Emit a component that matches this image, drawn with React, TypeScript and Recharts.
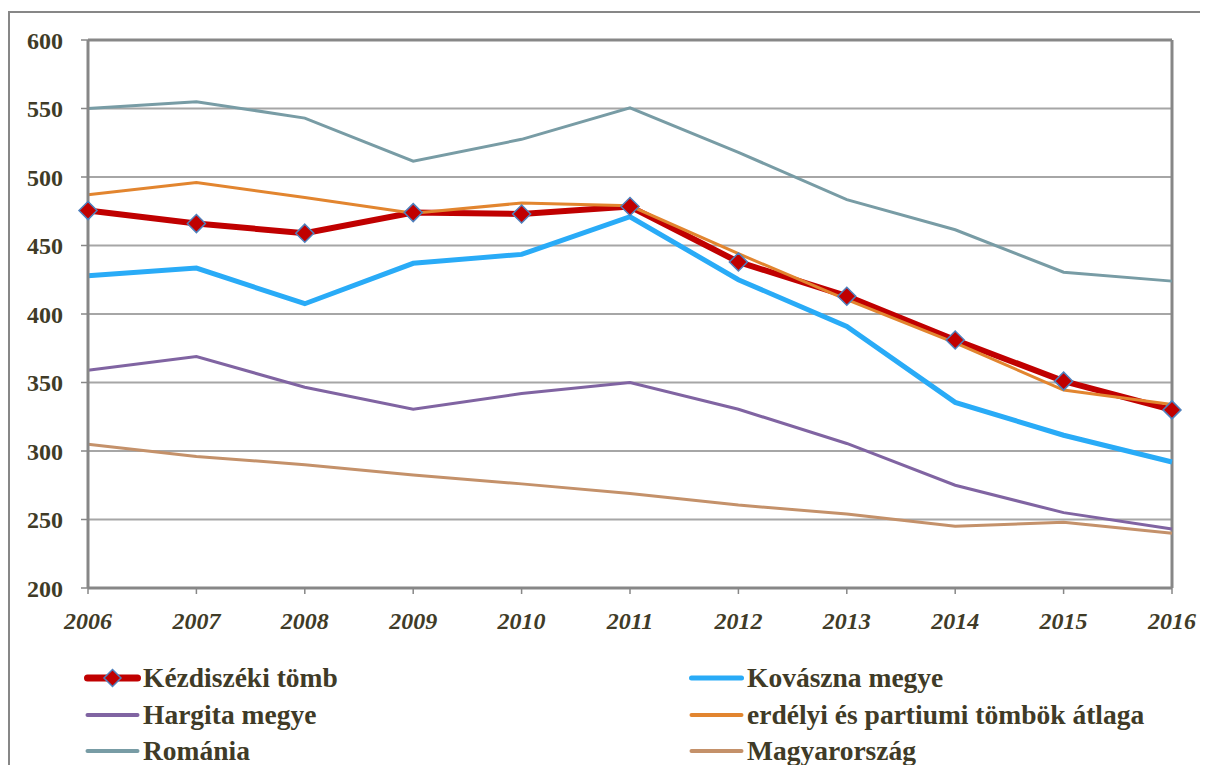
import { CartesianGrid, Line, LineChart, ReferenceLine, XAxis, YAxis } from 'recharts'

const years = [2006, 2007, 2008, 2009, 2010, 2011, 2012, 2013, 2014, 2015, 2016]
const kezdiszek = [475.5, 466, 459, 474, 473, 478.5, 438, 413, 381, 351, 330]
const kovaszna = [428, 433.5, 407.5, 437, 443.5, 471, 425, 391, 335.5, 311.5, 292]
const hargita = [359, 369, 346.5, 330.5, 342, 350, 330.5, 305.5, 275, 255, 243]
const erdelyi = [487, 496, 485, 473.5, 481, 479, 444, 410.5, 379, 344.5, 334]
const romania = [550, 555, 543, 511.5, 527.5, 550.5, 518, 483.5, 461.5, 430.5, 424]
const magyar = [305, 296, 290, 282.5, 276, 269, 260.5, 254, 245, 248, 240]

const yTicks = [200, 250, 300, 350, 400, 450, 500, 550, 600]
const minorTicks = Array.from({ length: 41 }, (_, i) => 200 + i * 10)

const data = years.map((year, i) => ({
  year,
  kezdiszek: kezdiszek[i],
  kovaszna: kovaszna[i],
  hargita: hargita[i],
  erdelyi: erdelyi[i],
  romania: romania[i],
  magyar: magyar[i],
}))

const TEXT = '#403b27'
const FRAME = '#878787'
const FONT = 'Liberation Serif, DejaVu Serif, Times New Roman, serif'

const legendItems = [
  { name: 'Kézdiszéki tömb', color: '#c00000', width: 7, marker: true, col: 0, row: 0 },
  { name: 'Kovászna megye', color: '#29abf7', width: 5, marker: false, col: 1, row: 0 },
  { name: 'Hargita megye', color: '#8064a2', width: 4, marker: false, col: 0, row: 1 },
  { name: 'erdélyi és partiumi tömbök átlaga', color: '#e2852f', width: 4, marker: false, col: 1, row: 1 },
  { name: 'Románia', color: '#789ca5', width: 4, marker: false, col: 0, row: 2 },
  { name: 'Magyarország', color: '#c4916a', width: 4, marker: false, col: 1, row: 2 },
]

function Diamond(props: any) {
  const { cx, cy } = props
  if (cx == null || cy == null) return null
  const half = props.half ?? 9
  return (
    <polygon
      points={`${cx},${cy - half} ${cx + half},${cy} ${cx},${cy + half} ${cx - half},${cy}`}
      fill="#c00000"
      stroke="#4f81bd"
      strokeWidth={1.5}
    />
  )
}

export default function App() {
  return (
    <div style={{ position: 'relative', width: 1192, height: 757, fontFamily: FONT, overflow: 'hidden' }}>
      <div
        style={{
          position: 'absolute',
          left: 0,
          top: 3,
          width: 1200,
          height: 760,
          borderLeft: `2px solid ${FRAME}`,
          borderTop: `2px solid ${FRAME}`,
          boxSizing: 'border-box',
        }}
      />
      <div style={{ position: 'absolute', left: 0, top: 0 }}>
        <LineChart width={1192} height={650} data={data} margin={{ top: 32, right: 28, left: 0, bottom: 20 }}>
          <CartesianGrid yAxisId="main" horizontal vertical={false} stroke="#a6a6a6" strokeWidth={2} />
          <XAxis
            dataKey="year"
            scale="point"
            padding={{ left: 0, right: 0 }}
            height={50}
            axisLine={{ stroke: FRAME, strokeWidth: 3 }}
            tickLine={{ stroke: FRAME, strokeWidth: 1.5 }}
            tickSize={6}
            tickMargin={18}
            tick={{ fill: TEXT, fontSize: 24, fontWeight: 700, fontStyle: 'italic', fontFamily: FONT }}
          />
          <YAxis
            yAxisId="minor"
            domain={[200, 600]}
            ticks={minorTicks}
            width={0}
            mirror
            tick={false}
            tickLine={{ stroke: FRAME, strokeWidth: 1.5 }}
            tickSize={5}
            axisLine={false}
          />
          <YAxis
            yAxisId="main"
            domain={[200, 600]}
            ticks={yTicks}
            width={80}
            axisLine={{ stroke: FRAME, strokeWidth: 3 }}
            tickLine={{ stroke: FRAME, strokeWidth: 1.5 }}
            tickSize={7}
            tickMargin={18}
            tick={{ fill: TEXT, fontSize: 24, fontWeight: 700, fontFamily: FONT }}
          />
          <ReferenceLine yAxisId="main" y={600} stroke={FRAME} strokeWidth={3} />
          <ReferenceLine yAxisId="main" x={2016} stroke={FRAME} strokeWidth={3} />
          <Line yAxisId="main" type="linear" dataKey="magyar" stroke="#c4916a" strokeWidth={3} dot={false} isAnimationActive={false} />
          <Line yAxisId="main" type="linear" dataKey="romania" stroke="#789ca5" strokeWidth={3} dot={false} isAnimationActive={false} />
          <Line yAxisId="main" type="linear" dataKey="hargita" stroke="#8064a2" strokeWidth={3} dot={false} isAnimationActive={false} />
          <Line yAxisId="main" type="linear" dataKey="kovaszna" stroke="#29abf7" strokeWidth={5} dot={false} isAnimationActive={false} />
          <Line yAxisId="main" type="linear" dataKey="kezdiszek" stroke="#c00000" strokeWidth={6} dot={false} isAnimationActive={false} />
          <Line yAxisId="main" type="linear" dataKey="erdelyi" stroke="#e2852f" strokeWidth={3} dot={false} isAnimationActive={false} />
          <Line yAxisId="main" type="linear" dataKey="kezdiszek" stroke="none" dot={<Diamond half={9} />} activeDot={false} isAnimationActive={false} />
        </LineChart>
      </div>
      {legendItems.map((item) => (
        <div
          key={item.name}
          style={{
            position: 'absolute',
            left: item.col === 0 ? 75 : 679,
            top: 653 + item.row * 36.5,
            height: 34,
            display: 'flex',
            alignItems: 'center',
            whiteSpace: 'nowrap',
          }}
        >
          <svg width={60} height={34} style={{ flexShrink: 0 }}>
            <line x1={4.5} y1={17} x2={54.5} y2={17} stroke={item.color} strokeWidth={item.width} strokeLinecap="round" />
            {item.marker && <Diamond cx={29.5} cy={17} half={8.5} />}
          </svg>
          <span style={{ color: TEXT, fontSize: 27.5, fontWeight: 700, lineHeight: '34px' }}>{item.name}</span>
        </div>
      ))}
    </div>
  )
}
